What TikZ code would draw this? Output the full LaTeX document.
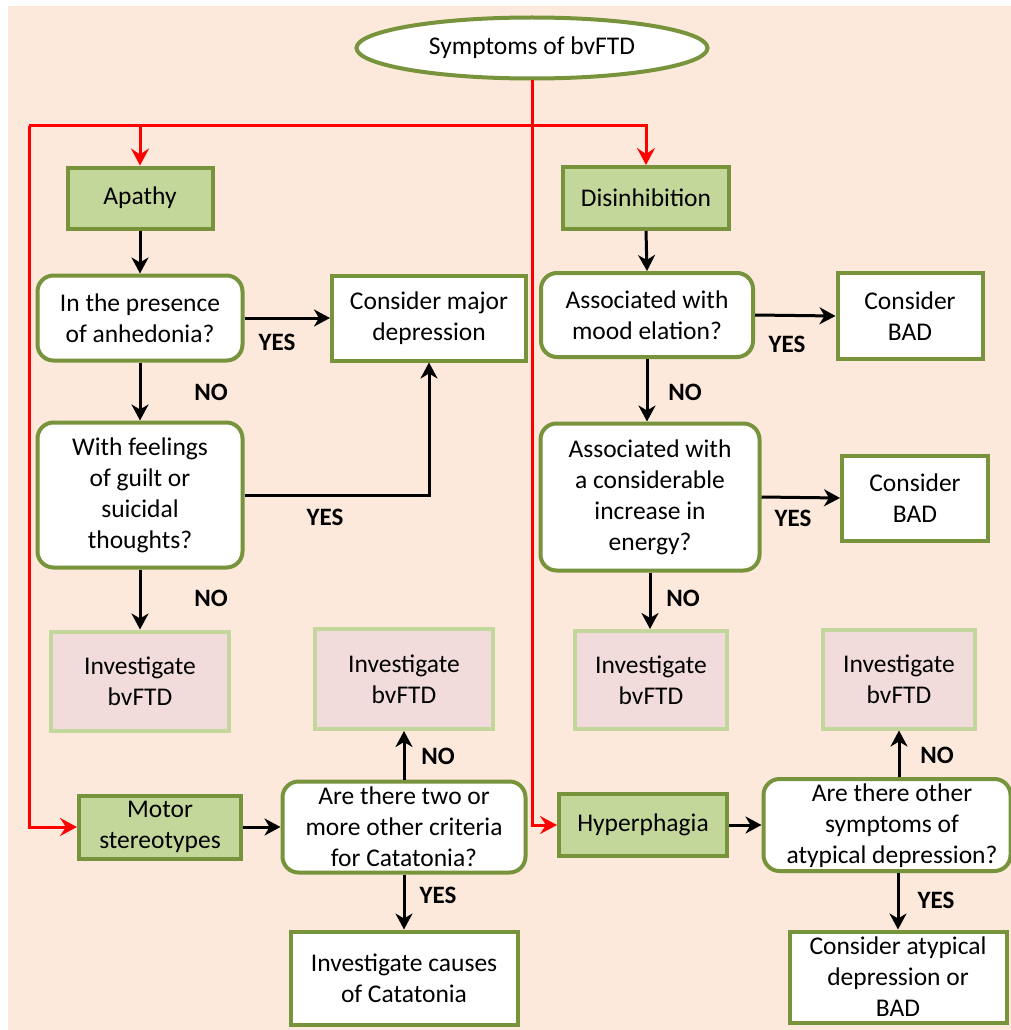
\documentclass[tikz,border=0pt]{standalone}
\usepackage{fontspec}
\setmainfont{Carlito}
\usetikzlibrary{arrows.meta,shapes.geometric}
\definecolor{bg}{HTML}{FCE9DB}
\definecolor{gfill}{HTML}{C4D79B}
\definecolor{gborder}{HTML}{77933C}
\definecolor{pfill}{HTML}{F2DCDB}
\definecolor{pborder}{HTML}{C3D69B}
\definecolor{rline}{HTML}{FF0000}
\tikzset{
  base/.style={inner sep=0pt, align=center, font=\fontsize{25.5}{31}\selectfont},
  greenbox/.style={base, fill=gfill, draw=gborder, line width=4pt},
  qbox/.style={base, rounded corners=16pt, fill=white, draw=gborder, line width=4pt},
  wbox/.style={base, fill=white, draw=gborder, line width=4pt},
  pbox/.style={base, fill=pfill, draw=pborder, line width=4pt},
  arr/.style={draw=black, line width=3pt, -{Stealth[length=16pt,width=17pt,inset=5pt]}},
  rarr/.style={draw=rline, line width=3pt, -{Stealth[length=17pt,width=18pt,inset=6pt]}},
  rline/.style={draw=rline, line width=3pt},
  lab/.style={font=\fontsize{25}{30}\selectfont\bfseries, inner sep=0pt}
}
\begin{document}
\begin{tikzpicture}[x=1pt,y=-1pt]
\useasboundingbox (0,0) rectangle (1011,1030);
\fill[bg] (8,6) rectangle (1011,1030);

% nodes
\node[base, ellipse, fill=white, draw=gborder, line width=4pt, minimum width=351pt, minimum height=61pt] (sym) at (532,48) {Symptoms of bvFTD};
\node[greenbox, minimum width=145pt, minimum height=61pt] (apathy) at (140,198) {Apathy};
\node[greenbox, minimum width=166pt, minimum height=62pt] (dis) at (646,198) {Disinhibition};
\node[qbox, minimum width=205pt, minimum height=85pt] (anh) at (140,318) {In the presence\\of anhedonia?};
\node[wbox, minimum width=194pt, minimum height=85pt] (maj) at (429,318) {Consider major\\depression};
\node[qbox, minimum width=205pt, minimum height=145pt] (guilt) at (140,495) {With feelings\\of guilt or\\suicidal\\thoughts?};
\node[pbox, minimum width=178pt, minimum height=99pt] (inv1) at (140,681) {Investigate\\bvFTD};
\node[pbox, minimum width=178pt, minimum height=100pt] (inv2) at (404,679) {Investigate\\bvFTD};
\node[greenbox, minimum width=162pt, minimum height=63pt] (motor) at (160,827) {Motor\\stereotypes};
\node[qbox, minimum width=243pt, minimum height=91pt] (cat) at (404,827) {Are there two or\\more other criteria\\for Catatonia?};
\node[wbox, minimum width=227pt, minimum height=93pt] (causes) at (404,978) {Investigate causes\\of Catatonia};
\node[qbox, minimum width=212pt, minimum height=84pt] (mood) at (647,315) {Associated with\\mood elation?};
\node[wbox, minimum width=145pt, minimum height=86pt] (bad1) at (910,316) {Consider\\BAD};
\node[qbox, minimum width=219pt, minimum height=147pt] (energy) at (650,497) {Associated with\\a considerable\\increase in\\energy?};
\node[wbox, minimum width=146pt, minimum height=85pt] (bad2) at (915,498) {Consider\\BAD};
\node[pbox, minimum width=152pt, minimum height=98pt] (inv3) at (651,680) {Investigate\\bvFTD};
\node[pbox, minimum width=152pt, minimum height=99pt] (inv4) at (899,679) {Investigate\\bvFTD};
\node[greenbox, minimum width=168pt, minimum height=62pt] (hyp) at (643,825) {Hyperphagia};
\node[qbox, minimum width=247pt, minimum height=92pt] (atyp) at (887,825) {};
\node[base] (atyptext) at (892,826) {Are there other\\symptoms of\\atypical depression?};
\node[wbox, minimum width=217pt, minimum height=91pt] (atcons) at (898,977) {Consider atypical\\depression or\\BAD};

% red connectors
\coordinate (lc) at (29,126);
\draw[rarr] (sym.south) |- (hyp.west);
\draw[rline] (lc) -- (sym.south |- lc);
\draw[rarr] (lc) -| (dis.north);
\draw[rarr] (apathy.north |- lc) -- (apathy.north);
\draw[rarr] (lc) |- (motor.west);

% black connectors
\draw[arr] (apathy.south) -- (anh.north);
\draw[arr] (anh.east) -- (maj.west);
\draw[arr] (anh.south) -- (guilt.north);
\draw[arr] (guilt.east) -| (maj.south);
\draw[arr] (guilt.south) -- (inv1.north);
\draw[arr] (motor.east) -- (cat.west);
\draw[arr] (cat.north) -- (inv2.south);
\draw[arr] (cat.south) -- (causes.north);
\draw[arr] (dis.south) -- (mood.north);
\draw[arr] (mood.east) -- (bad1.west);
\draw[arr] (mood.south) -- (mood.south |- energy.north);
\draw[arr] (energy.east) -- (bad2.west);
\draw[arr] (energy.south) -- (energy.south |- inv3.north);
\draw[arr] (hyp.east) -- (atyp.west);
\draw[arr] (atyp.north -| inv4) -- (inv4.south);
\draw[arr] (atyp.south -| atcons) -- (atcons.north);

% labels
\node[lab] (l1) at (277,342) {YES};
\node[lab] (l2) at (211,392) {NO};
\node[lab] (l3) at (325,517) {YES};
\node[lab] (l4) at (211,598) {NO};
\node[lab] (l5) at (438,756) {NO};
\node[lab] (l6) at (438,895) {YES};
\node[lab] (l7) at (787,344) {YES};
\node[lab] (l8) at (685,392) {NO};
\node[lab] (l9) at (793,518) {YES};
\node[lab] (l10) at (683,598) {NO};
\node[lab] (l11) at (937,755) {NO};
\node[lab] (l12) at (936,900) {YES};
\end{tikzpicture}
\end{document}
